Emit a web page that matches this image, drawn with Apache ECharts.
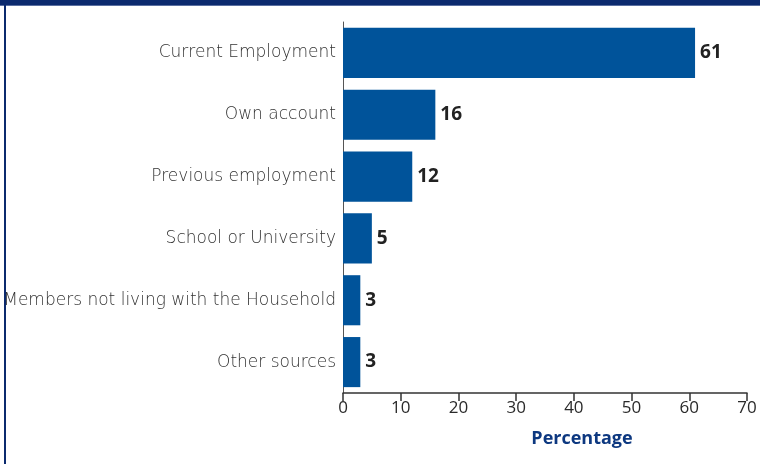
<!DOCTYPE html>
<html><head><meta charset="utf-8">
<script src="https://cdn.jsdelivr.net/npm/echarts@6/dist/echarts.min.js"></script>
<style>html,body{margin:0;padding:0;background:#fff;}#c{width:760px;height:464px;}</style>
</head><body><div id="c"></div>
<script>
const categories = ["Current Employment","Own account","Previous employment","School or University","Members not living with the Household","Other sources"];
const values = [61, 16, 12, 5, 3, 3];
const xTicks = [0,10,20,30,40,50,60,70];
const axisTitle = "Percentage";

const chart = echarts.init(document.getElementById('c'));
chart.setOption({
  animation: false,
  grid: {left: 343, right: 13, top: 22, bottom: 71, containLabel: false},
  xAxis: {
    type: 'value', min: xTicks[0], max: xTicks[xTicks.length-1], interval: 10,
    axisLine: {show: true, lineStyle: {color: '#333', width: 1.5}},
    axisTick: {show: true, length: 8, inside: false, lineStyle: {color: '#333', width: 1.5}},
    splitLine: {show: false},
    axisLabel: {color: '#2a2a2a', fontSize: 17, fontFamily: 'Open Sans', margin: 7}
  },
  yAxis: {
    type: 'category', data: categories, inverse: true,
    axisLine: {show: true, lineStyle: {color: '#555', width: 1}},
    axisTick: {show: false},
    axisLabel: {color: '#333', fontSize: 17, fontFamily: 'DejaVu Sans', fontWeight: 'lighter', margin: 7, padding: [5, 0, 0, 0]}
  },
  series: [{
    type: 'bar', data: values, barCategoryGap: '19%',
    itemStyle: {color: '#00539a'},
    label: {show: true, position: 'right', distance: 5, color: '#222', fontSize: 19, fontWeight: 'bold', fontFamily: 'Open Sans'}
  }],
  graphic: [
    {type: 'rect', shape: {x: 0, y: 0, width: 760, height: 5}, style: {fill: '#0b2a6e'}},
    {type: 'rect', shape: {x: 0, y: 5, width: 760, height: 1}, style: {fill: '#5a6fa0'}},
    {type: 'rect', shape: {x: 4, y: 5, width: 2, height: 459}, style: {fill: '#0b2a6e'}},
    {type: 'text', style: {x: 582, y: 439, text: axisTitle, fill: '#0d3880', font: 'bold 18px "Open Sans"', align: 'center', verticalAlign: 'middle'}}
  ]
});
</script></body></html>
